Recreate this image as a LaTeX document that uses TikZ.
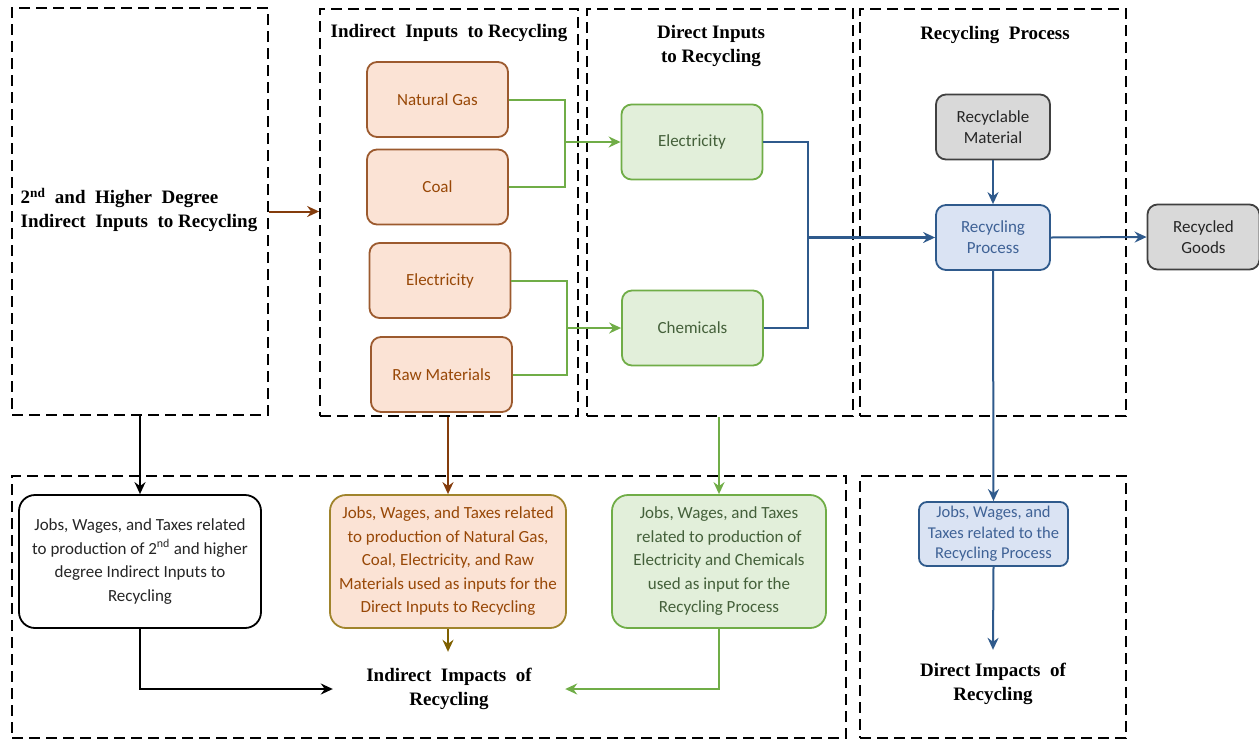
\documentclass[tikz,border=0pt]{standalone}
\usepackage{fontspec}
\setmainfont{Liberation Serif}
\newfontfamily\carl{Carlito}
\usetikzlibrary{arrows.meta}
\definecolor{brownB}{HTML}{9C5A2E}
\definecolor{brownF}{HTML}{FBE3D5}
\definecolor{brownT}{HTML}{984807}
\definecolor{brownA}{HTML}{843C0C}
\definecolor{greenB}{HTML}{70AD47}
\definecolor{greenF}{HTML}{E2EFDA}
\definecolor{greenT}{HTML}{44603A}
\definecolor{blueB}{HTML}{2F5A8C}
\definecolor{blueF}{HTML}{DAE3F3}
\definecolor{blueT}{HTML}{3F6296}
\definecolor{greyF}{HTML}{D9D9D9}
\definecolor{greyB}{HTML}{404040}
\definecolor{oliveB}{HTML}{A0842C}
\definecolor{oliveA}{HTML}{7F6000}
\tikzset{
  frame/.style={draw=black, line width=1.8pt, dash pattern=on 11pt off 6pt, inner sep=0pt},
  ttl/.style={font=\bfseries\fontsize{19}{24}\selectfont, align=center, inner sep=0pt},
  box/.style={rounded corners=10pt, line width=1.8pt, inner sep=0pt, align=center,
    font=\carl\fontsize{17}{23.5}\selectfont},
  brownbox/.style={box, draw=brownB, fill=brownF, text=brownT, minimum width=141pt, minimum height=75pt},
  greenbox/.style={box, draw=greenB, fill=greenF, text=greenT, minimum width=141pt, minimum height=75pt},
  greybox/.style={box, draw=greyB, fill=greyF, text=black!85, minimum width=114pt, minimum height=65pt},
  bluebox/.style={box, draw=blueB, fill=blueF, text=blueT, minimum width=114pt, minimum height=65pt},
  jobs/.style={box, rounded corners=16pt, minimum height=133pt},
  tip/.style={-{Stealth[length=12pt,width=11pt,inset=4pt]}},
  conn/.style={line width=2pt},
}
\begin{document}
\begin{tikzpicture}[x=1pt,y=-1pt]
\useasboundingbox (0,0) rectangle (1259,740);
% frames
\node[frame, minimum width=256pt, minimum height=407pt] (fA) at (140,211.5) {};
\node[frame, minimum width=258pt, minimum height=407pt] (fB) at (449,212.5) {};
\node[frame, minimum width=266pt, minimum height=407pt] (fC) at (720,212.5) {};
\node[frame, minimum width=266pt, minimum height=407pt] (fD) at (993,212.5) {};
\node[frame, minimum width=834pt, minimum height=262pt] (fE) at (429,607) {};
\node[frame, minimum width=266pt, minimum height=262pt] (fF) at (993,607) {};
% titles
\node[ttl] (tB) at (449,33) {Indirect\ \ Inputs\ \ to Recycling};
\node[ttl] (tC) at (711,46) {Direct Inputs\\to Recycling};
\node[ttl] (tD) at (995,35) {Recycling\ \ Process};
\node[ttl, align=left] (tA) at (139,210) {2\textsuperscript{nd}\ \ and\ \ Higher\ \ Degree\\Indirect\ \ Inputs\ \ to Recycling};
% indirect inputs
\node[brownbox] (ng) at (437.5,99.5) {Natural Gas};
\node[brownbox] (coal) at (437.5,187) {Coal};
\node[brownbox] (el) at (440,280.5) {Electricity};
\node[brownbox] (raw) at (441.5,374.5) {Raw Materials};
% direct inputs
\node[greenbox] (eg) at (692,142) {Electricity};
\node[greenbox] (ch) at (692.5,328) {Chemicals};
% recycling process
\node[greybox, font=\carl\fontsize{17}{21}\selectfont] (rm) at (993,127) {Recyclable\\Material};
\node[bluebox, font=\carl\fontsize{17}{21}\selectfont] (rp) at (993,237.5) {Recycling\\Process};
\node[greybox, font=\carl\fontsize{17}{21}\selectfont, minimum width=112pt] (rg) at (1203.5,237) {Recycled\\Goods};
% jobs boxes
\node[jobs, draw=black, fill=white, text=black!85, minimum width=242pt] (jk) at (140,561.5)
  {Jobs, Wages, and Taxes related\\to production of 2\textsuperscript{nd} and higher\\degree Indirect Inputs to\\Recycling};
\node[jobs, draw=oliveB, fill=brownF, text=brownT, minimum width=236pt] (jo) at (448,561.5)
  {Jobs, Wages, and Taxes related\\to production of Natural Gas,\\Coal, Electricity, and Raw\\Materials used as inputs for the\\Direct Inputs to Recycling};
\node[jobs, draw=greenB, fill=greenF, text=greenT, minimum width=214pt] (jg) at (719,561.5)
  {Jobs, Wages, and Taxes\\related to production of\\Electricity and Chemicals\\used as input for the\\Recycling Process};
\node[box, rounded corners=8pt, draw=blueB, fill=blueF, text=blueT, minimum width=149pt, minimum height=64pt,
  font=\carl\fontsize{16.5}{20.5}\selectfont] (jb) at (993.5,534)
  {Jobs, Wages, and\\Taxes related to the\\Recycling Process};
% impacts
\node[ttl, minimum width=232pt, minimum height=74pt] (ind) at (449,689) {Indirect\ \ Impacts\ \ of\\Recycling};
\node[ttl, minimum height=68pt] (dir) at (993,684) {Direct Impacts\ \ of\\Recycling};
% junctions
\coordinate (j1) at (565,142);
\coordinate (j2) at (567,328);
\coordinate (j3) at (808,237.5);
% connectors
\draw[conn, brownA, tip] (fA.east) -- (fA.east -| fB.west);
\draw[conn, greenB] (ng.east) -| (j1);
\draw[conn, greenB] (coal.east) -| (j1);
\draw[conn, greenB, tip] (j1) -- (eg.west);
\draw[conn, greenB] (el.east) -| (j2);
\draw[conn, greenB] (raw.east) -| (j2);
\draw[conn, greenB, tip] (j2) -- (ch.west);
\draw[conn, blueB] (eg.east) -| (j3);
\draw[conn, blueB] (ch.east) -| (j3);
\draw[line width=2.6pt, blueB, tip] (j3) -- (rp.west);
\draw[conn, blueB, tip] (rm.south) -- (rp.north);
\draw[conn, blueB, tip] (rp.east) -- (rg.west);
\draw[conn, blueB, tip] (rp.south) -- (jb.north);
\draw[conn, blueB, tip] (jb.south) -- (dir.north);
\draw[conn, black, tip] (jk.north |- fA.south) -- (jk.north);
\draw[conn, brownA, tip] (jo.north |- fB.south) -- (jo.north);
\draw[conn, greenB, tip] (jg.north |- fC.south) -- (jg.north);
\draw[conn, black, tip] (jk.south) |- (ind.west);
\draw[conn, oliveA, tip] (jo.south) -- (jo.south |- ind.north);
\draw[conn, greenB, tip] (jg.south) |- (ind.east);
\end{tikzpicture}
\end{document}
